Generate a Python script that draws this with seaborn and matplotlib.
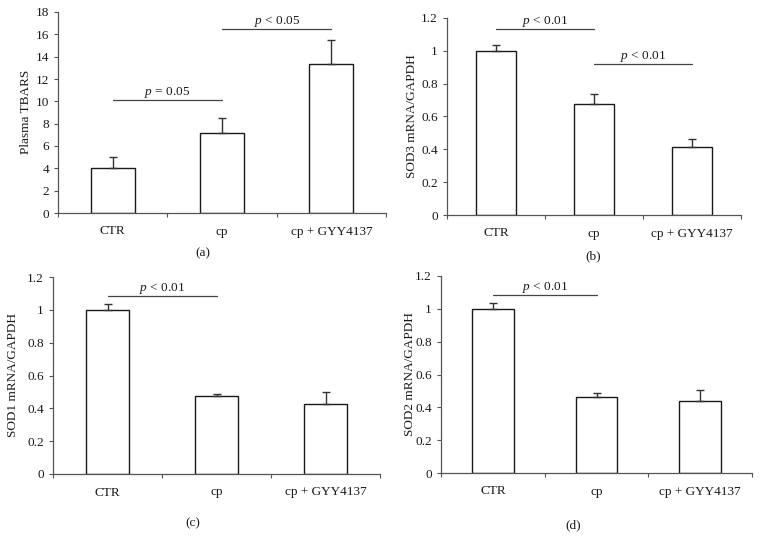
import numpy as np
import pandas as pd
import seaborn as sns
import matplotlib.pyplot as plt
import matplotlib.ticker as ticker

# データ
groups = ["CTR", "cp", "cp + GYY4137"]

tbars_mean = [4.05, 7.2, 13.3]
tbars_err = [1.0, 1.3, 2.15]

sod3_mean = [1.0, 0.675, 0.417]
sod3_err = [0.035, 0.06, 0.045]

sod1_mean = [1.0, 0.477, 0.424]
sod1_err = [0.038, 0.013, 0.073]

sod2_mean = [1.0, 0.46, 0.436]
sod2_err = [0.037, 0.027, 0.07]

# 有意差の線 (開始, 終了, 高さ, ラベル)
sig_a = [(0, 1, 10.15, r"$p$ = 0.05"), (1, 2, 16.48, r"$p$ < 0.05")]
sig_b = [(0, 1, 1.133, r"$p$ < 0.01"), (1, 2, 0.919, r"$p$ < 0.01")]
sig_c = [(0, 1, 1.083, r"$p$ < 0.01")]
sig_d = [(0, 1, 1.085, r"$p$ < 0.01")]

sns.set_theme(style="ticks")
plt.rcParams["font.family"] = ["Liberation Serif", "DejaVu Serif"]
plt.rcParams["mathtext.fontset"] = "custom"
plt.rcParams["mathtext.rm"] = "Liberation Serif"
plt.rcParams["mathtext.it"] = "Liberation Serif:italic"

fig = plt.figure(figsize=(7.6, 5.39), dpi=100)

W, H = 760, 539


def px_axes(left, right, top, bottom):
    return fig.add_axes([left / W, 1 - bottom / H, (right - left) / W, (bottom - top) / H])


# (軸, 平均, 誤差, 有意差, ylabel, ymax, 間隔, タグ, タグ位置, ylabel位置)
panels = [
    (px_axes(58, 386, 12, 213), tbars_mean, tbars_err, sig_a, "Plasma TBARS", 18, 2, "(a)", (203, 253), (32, 112)),
    (px_axes(447, 741, 18, 215), sod3_mean, sod3_err, sig_b, "SOD3 mRNA/GAPDH", 1.2, 0.2, "(b)", (593, 256), (418, 116)),
    (px_axes(53, 380, 277, 474), sod1_mean, sod1_err, sig_c, "SOD1 mRNA/GAPDH", 1.2, 0.2, "(c)", (193, 523), (19, 375)),
    (px_axes(441, 752, 276, 473), sod2_mean, sod2_err, sig_d, "SOD2 mRNA/GAPDH", 1.2, 0.2, "(d)", (573, 525), (416, 374)),
]

line_col = "#555555"

for ax, mean, err, sig, ylab, ymax, ystep, tag, tagpos, labpos in panels:
    df = pd.DataFrame({"group": groups, "value": mean})
    sns.barplot(data=df, x="group", y="value", color="white", saturation=1,
                edgecolor="#1a1a1a", linewidth=1.0, width=0.4, ax=ax)
    # 上側だけのエラーバー
    ax.errorbar(np.arange(len(groups)), mean, yerr=[np.zeros(len(err)), err],
                fmt="none", ecolor="#333333", elinewidth=1.0, capsize=3, capthick=1.0)

    ax.set_xlim(-0.5, 2.5)
    ax.set_ylim(0, ymax)
    ax.set_yticks(np.arange(0, ymax + ystep / 2, ystep))
    ax.yaxis.set_major_formatter(ticker.FuncFormatter(lambda v, p: "%g" % round(v, 2)))
    ax.set_xticks([0, 1, 2])
    ax.set_xticklabels(groups)
    ax.set_xticks([-0.5, 0.5, 1.5, 2.5], minor=True)
    ax.tick_params(axis="x", which="major", length=0, pad=9, labelsize=9.5, colors="#1a1a1a")
    ax.tick_params(axis="x", which="minor", length=3, width=0.8, direction="out", color=line_col)
    ax.tick_params(axis="y", length=3, width=0.8, direction="out", color=line_col,
                   labelsize=9.5, labelcolor="#1a1a1a")
    ax.set_xlabel("")
    ax.set_ylabel(ylab, fontsize=9.5, color="#1a1a1a")
    ax.yaxis.set_label_coords(labpos[0] / W, 1 - labpos[1] / H, transform=fig.transFigure)
    sns.despine(ax=ax)
    for s in ["left", "bottom"]:
        ax.spines[s].set_color(line_col)
        ax.spines[s].set_linewidth(0.9)

    for i0, i1, yy, lab in sig:
        ax.plot([i0, i1], [yy, yy], color="#444444", linewidth=0.9, clip_on=False)
        ax.text((i0 + i1) / 2, yy, lab, ha="center", va="bottom", fontsize=9.5,
                color="#1a1a1a", clip_on=False)

    fig.text(tagpos[0] / W, 1 - tagpos[1] / H, tag, ha="center", va="center",
             fontsize=9.5, color="#1a1a1a")

plt.savefig("out.png", dpi=100, facecolor="white")
